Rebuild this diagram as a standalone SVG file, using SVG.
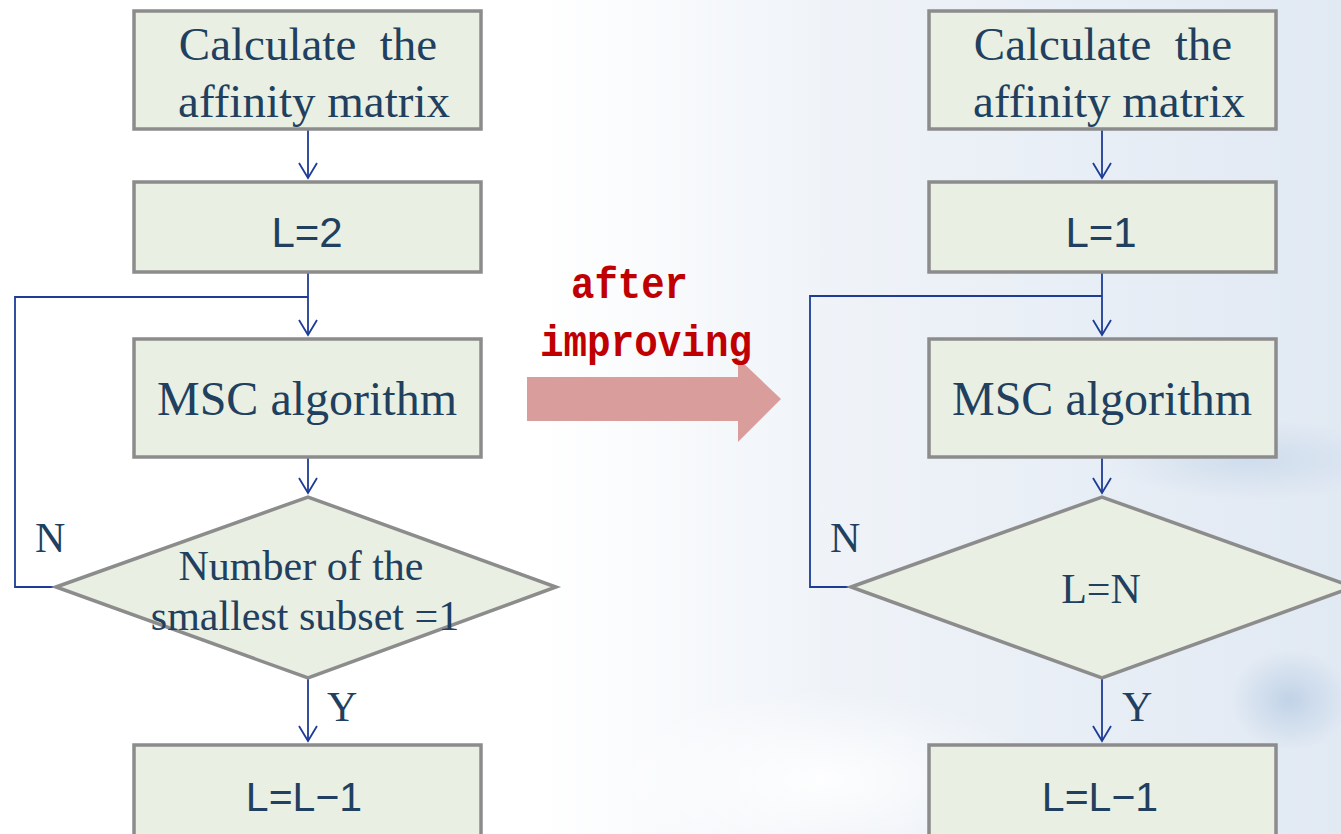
<svg xmlns="http://www.w3.org/2000/svg" width="1341" height="834" viewBox="0 0 1341 834">
  <defs>
    <style>
      .box { fill: #e9efe2; stroke: #8c8c8c; stroke-width: 3.5; }
      .serif { font-family: "Liberation Serif", "Times New Roman", serif; fill: #213f5e; }
      .sans { font-family: "Liberation Sans", Arial, sans-serif; fill: #213f5e; }
      .conn { fill: none; stroke: #1d3c96; stroke-width: 1.8; }
      .red { font-family: "Liberation Mono", "Courier New", monospace; font-weight: bold; fill: #c00000; font-size: 44px; }
    </style>
    <marker id="open" viewBox="0 0 20 20" refX="18" refY="10" markerWidth="20" markerHeight="20" markerUnits="userSpaceOnUse" orient="auto">
      <path d="M3,1 L18,10 L3,19" fill="none" stroke="#1d3c96" stroke-width="1.8"/>
    </marker>
    <linearGradient id="bg" x1="0" y1="0" x2="1" y2="0">
      <stop offset="0" stop-color="#ffffff"/>
      <stop offset="0.4" stop-color="#ffffff"/>
      <stop offset="0.62" stop-color="#eff3f8"/>
      <stop offset="1" stop-color="#e1e9f3"/>
    </linearGradient>
    <radialGradient id="blob" cx="0.5" cy="0.5" r="0.5">
      <stop offset="0" stop-color="#b9cde4" stop-opacity="0.8"/>
      <stop offset="1" stop-color="#b9cde4" stop-opacity="0"/>
    </radialGradient>
    <radialGradient id="glow" cx="0.5" cy="0.5" r="0.5">
      <stop offset="0" stop-color="#ffffff" stop-opacity="0.9"/>
      <stop offset="1" stop-color="#ffffff" stop-opacity="0"/>
    </radialGradient>
  </defs>

  <rect x="0" y="0" width="1341" height="834" fill="url(#bg)"/>
  <ellipse cx="1290" cy="700" rx="60" ry="50" fill="url(#blob)"/>
  <ellipse cx="1250" cy="460" rx="140" ry="40" fill="url(#blob)" opacity="0.6"/>
  <ellipse cx="820" cy="780" rx="220" ry="90" fill="url(#glow)"/>

  <!-- big arrow -->
  <g id="transition">
    <path d="M527,377 L738,377 L738,358 L781,399 L738,442 L738,421 L527,421 Z" fill="#d99e9b"/>
    <text class="red" x="571" y="298" textLength="117" lengthAdjust="spacingAndGlyphs">after</text>
    <text class="red" x="540" y="356" textLength="212" lengthAdjust="spacingAndGlyphs">improving</text>
  </g>

  <!-- connectors -->
  <g id="connectors">
    <line class="conn" x1="308" y1="130" x2="308" y2="178" marker-end="url(#open)"/>
    <line class="conn" x1="308" y1="273" x2="308" y2="335" marker-end="url(#open)"/>
    <polyline class="conn" points="56,587 15,587 15,297 308,297"/>
    <line class="conn" x1="308" y1="458" x2="308" y2="493" marker-end="url(#open)"/>
    <line class="conn" x1="308" y1="679" x2="308" y2="741" marker-end="url(#open)"/>

    <line class="conn" x1="1102" y1="130" x2="1102" y2="178" marker-end="url(#open)"/>
    <line class="conn" x1="1102" y1="273" x2="1102" y2="335" marker-end="url(#open)"/>
    <polyline class="conn" points="851,587 810,587 810,296 1102,296"/>
    <line class="conn" x1="1102" y1="458" x2="1102" y2="493" marker-end="url(#open)"/>
    <line class="conn" x1="1102" y1="679" x2="1102" y2="741" marker-end="url(#open)"/>
  </g>

  <!-- left flowchart -->
  <g id="l-affinity">
    <rect class="box" x="134" y="11" width="347" height="118"/>
    <text class="serif" font-size="47" x="308" y="60" text-anchor="middle" xml:space="preserve">Calculate  the</text>
    <text class="serif" font-size="47" x="314" y="117" text-anchor="middle">affinity matrix</text>
  </g>
  <g id="l-init">
    <rect class="box" x="134" y="182" width="347" height="90"/>
    <text class="sans" font-size="42" x="307" y="247" text-anchor="middle">L=2</text>
  </g>
  <g id="l-msc">
    <rect class="box" x="134" y="339" width="347" height="118"/>
    <text class="serif" font-size="48" x="307" y="415" text-anchor="middle">MSC algorithm</text>
  </g>
  <g id="l-decision">
    <polygon class="box" points="56,587 308,497 556,587 308,678"/>
    <text class="serif" font-size="42" x="301" y="580" text-anchor="middle">Number of the</text>
    <text class="serif" font-size="42" x="305" y="630" text-anchor="middle">smallest subset =1</text>
  </g>
  <g id="l-dec">
    <rect class="box" x="134" y="745" width="347" height="100"/>
    <text class="sans" font-size="41" x="304" y="811" text-anchor="middle">L=L−1</text>
  </g>
  <text class="serif" font-size="42" x="35" y="552">N</text>
  <text class="serif" font-size="42" x="327" y="721">Y</text>

  <!-- right flowchart -->
  <g id="r-affinity">
    <rect class="box" x="929" y="11" width="347" height="118"/>
    <text class="serif" font-size="47" x="1103" y="60" text-anchor="middle" xml:space="preserve">Calculate  the</text>
    <text class="serif" font-size="47" x="1109" y="117" text-anchor="middle">affinity matrix</text>
  </g>
  <g id="r-init">
    <rect class="box" x="929" y="182" width="347" height="90"/>
    <text class="sans" font-size="42" x="1101" y="247" text-anchor="middle">L=1</text>
  </g>
  <g id="r-msc">
    <rect class="box" x="929" y="339" width="347" height="118"/>
    <text class="serif" font-size="48" x="1102" y="415" text-anchor="middle">MSC algorithm</text>
  </g>
  <g id="r-decision">
    <polygon class="box" points="851,587 1102,497 1353,587 1102,678"/>
    <text class="serif" font-size="42" x="1101" y="603" text-anchor="middle">L=N</text>
  </g>
  <g id="r-dec">
    <rect class="box" x="929" y="745" width="347" height="100"/>
    <text class="sans" font-size="41" x="1100" y="811" text-anchor="middle">L=L−1</text>
  </g>
  <text class="serif" font-size="42" x="830" y="552">N</text>
  <text class="serif" font-size="42" x="1122" y="721">Y</text>
</svg>
